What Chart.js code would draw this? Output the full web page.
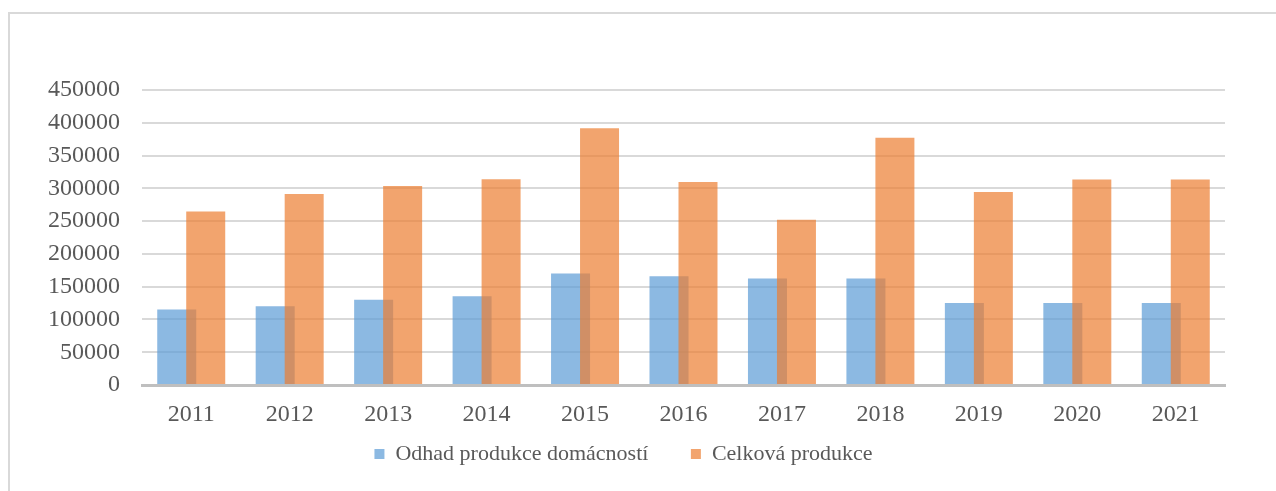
<!DOCTYPE html>
<html>
<head>
<meta charset="utf-8">
<script src="https://cdn.jsdelivr.net/npm/chart.js@4/dist/chart.umd.min.js"></script>
<style>
  html, body { margin: 0; padding: 0; background: #fff; }
  #wrap { position: relative; width: 1276px; height: 491px; overflow: hidden; }
  #frame { position: absolute; left: 8px; top: 12px; width: 1400px; height: 600px;
           border-left: 2px solid #D9D9D9; border-top: 2px solid #D9D9D9; }
  #chart { position: absolute; left: 0; top: 0; }
</style>
</head>
<body>
<div id="wrap">
  <div id="frame"></div>
  <canvas id="chart" width="1276" height="491"></canvas>
</div>
<script>
const years = ['2011', '2012', '2013', '2014', '2015', '2016', '2017', '2018', '2019', '2020', '2021'];
const domacnosti = [115000, 120000, 130000, 135500, 170000, 166000, 162500, 162500, 125000, 125000, 125000];
const celkem = [264500, 291500, 303500, 314000, 391500, 309500, 252000, 377000, 294500, 313500, 313500];
const seriesNames = ['Odhad produkce domácností', 'Celková produkce'];

const textColor = '#595959';
const serif = "'Liberation Serif', 'Times New Roman', serif";

// blue bars are drawn first so the orange ones sit on top of the overlap
const drawOrder = {
  id: 'drawOrder',
  beforeDatasetsDraw(chart) {
    chart.getDatasetMeta(0).controller.draw();
  },
  beforeDatasetDraw(chart, args) {
    if (args.index === 0) return false;
  }
};

const ctx = document.getElementById('chart').getContext('2d');
new Chart(ctx, {
  type: 'bar',
  data: {
    labels: years,
    datasets: [{
      label: seriesNames[0],
      data: domacnosti,
      backgroundColor: 'rgba(91, 155, 213, 0.7)',
      borderWidth: 0
    }, {
      label: seriesNames[1],
      data: celkem,
      backgroundColor: 'rgba(237, 125, 49, 0.7)',
      borderWidth: 0
    }]
  },
  options: {
    responsive: false,
    animation: false,
    categoryPercentage: 0.589,
    barPercentage: 1.345,
    layout: { padding: { top: 90, left: 22, right: 51, bottom: 16 } },
    scales: {
      x: {
        grid: { display: false, drawTicks: false },
        border: { color: '#BFBFBF', width: 3 },
        ticks: { color: textColor, font: { family: serif, size: 24, lineHeight: 1 }, padding: 18 },
        afterFit: function(scale) { scale.height = 43; }
      },
      y: {
        min: 0,
        max: 450000,
        grid: { color: '#D9D9D9', lineWidth: 2, drawTicks: false },
        border: { display: false },
        ticks: {
          stepSize: 50000,
          autoSkip: false,
          color: textColor,
          font: { family: serif, size: 24, lineHeight: 1 },
          padding: 22,
          callback: function(value) { return String(value); }
        },
        afterFit: function(scale) { scale.width = 120; }
      }
    },
    plugins: {
      legend: {
        position: 'bottom',
        labels: {
          color: textColor,
          font: { family: serif, size: 22 },
          boxWidth: 10,
          boxHeight: 10,
          padding: 15,
          generateLabels: function(chart) {
            const items = Chart.defaults.plugins.legend.labels.generateLabels(chart);
            // wider gap between the two legend entries
            items[0].text += '\u00a0\u00a0\u00a0\u00a0\u00a0';
            return items;
          }
        }
      },
      tooltip: { enabled: false }
    }
  },
  plugins: [drawOrder]
});
</script>
</body>
</html>
